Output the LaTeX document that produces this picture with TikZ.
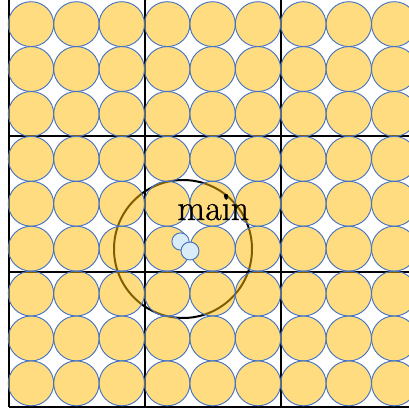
\documentclass[tikz,border=0pt]{standalone}
\usepackage{fontspec}
\newfontfamily\labelfont[FakeBold=0.8]{Latin Modern Roman}
\usetikzlibrary{calc}
\definecolor{gold}{RGB}{255,187,0}
\definecolor{edgeblue}{RGB}{68,114,196}
\definecolor{paleblue}{RGB}{218,236,247}
\tikzset{
  gridline/.style={black, line width=1.5pt},
  disc/.style={fill=gold, fill opacity=0.5, draw=edgeblue, draw opacity=1, line width=0.7pt},
  bigring/.style={black, line width=1.5pt},
  smalldisc/.style={fill=paleblue, draw=edgeblue, line width=0.7pt},
}
\begin{document}
\begin{tikzpicture}[x=0.75pt,y=-0.75pt]
\useasboundingbox (0,0) rectangle (409,410);
\fill[white] (0,0) rectangle (409,410);
% grid lines
\foreach \gx in {9,145,281,417} \draw[gridline] (\gx,-1) -- (\gx,407);
\foreach \gy in {-0.5,135.5,271.5,407} \draw[gridline] (9,\gy) -- (417,\gy);
% big circle
\coordinate (ringc) at (183,249);
\draw[bigring] (ringc) circle [radius=69];
% discs
\foreach \i in {0,...,8} {
  \foreach \j in {0,...,8} {
    \draw[disc] ({31+45.4*\i},{24.15+44.9*\j}) ellipse [x radius=22.7, y radius=22.45];
  }
}
% label
\node[anchor=base, inner sep=0pt, font=\labelfont\fontsize{27}{32}\selectfont, text=black] (mainlabel) at (213.3,220) {main};
\fill[black] (226,196) circle [radius=2.2];
% small discs
\draw[smalldisc] (180.5,241.5) circle [radius=8.6];
\draw[smalldisc] (190,251) circle [radius=9];
\end{tikzpicture}
\end{document}
